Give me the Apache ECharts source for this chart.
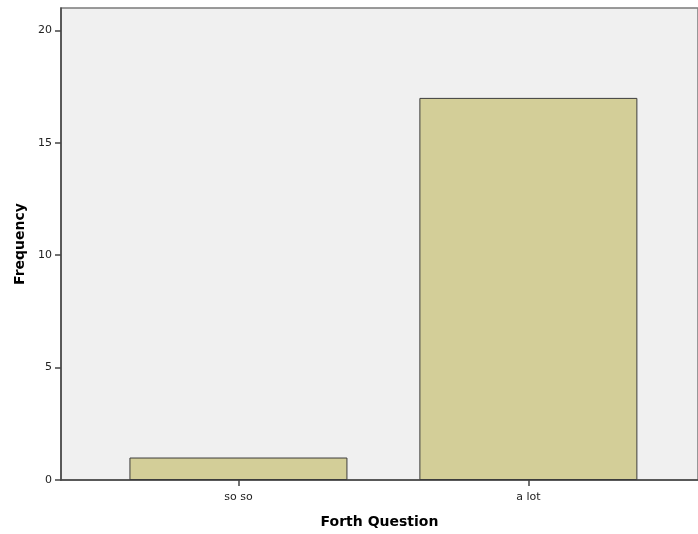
<!DOCTYPE html>
<html>
<head>
<meta charset="utf-8">
<script src="https://cdn.jsdelivr.net/npm/echarts@6/dist/echarts.min.js"></script>
<style>
html,body{margin:0;padding:0;background:#fff;}
#chart{width:698px;height:534px;}
</style>
</head>
<body>
<div id="chart"></div>
<script>
const categories = ["so so", "a lot"];
const frequencies = [1, 17];
const yTicks = [0, 5, 10, 15, 20];

const FONT = 'DejaVu Sans, Verdana, sans-serif';
const chart = echarts.init(document.getElementById('chart'), null, {renderer: 'canvas'});
const catIdx = categories.map((c, i) => i);
chart.setOption({
  animation: false,
  backgroundColor: '#ffffff',
  grid: {
    left: 61, right: 0, top: 8, bottom: 53,
    show: true, backgroundColor: '#f0f0f0', borderColor: '#7a7a7a', borderWidth: 1.5
  },
  xAxis: {
    type: 'value',
    min: -0.612, max: 1.585,
    name: 'Forth Question',
    nameLocation: 'middle',
    nameGap: 35,
    nameTextStyle: {fontFamily: FONT, fontSize: 14, fontWeight: 'bold', color: '#000'},
    axisLine: {show: true, onZero: false, lineStyle: {color: '#444', width: 1.5}},
    axisTick: {show: true, customValues: catIdx, length: 6, lineStyle: {color: '#444', width: 1.5}},
    axisLabel: {show: true, customValues: catIdx, margin: 12,
      formatter: v => categories[Math.round(v)],
      fontFamily: FONT, fontSize: 11, color: '#222'},
    splitLine: {show: false}
  },
  yAxis: {
    type: 'value',
    min: 0, max: 21,
    name: 'Frequency',
    nameLocation: 'middle',
    nameGap: 33,
    nameTextStyle: {fontFamily: FONT, fontSize: 14, fontWeight: 'bold', color: '#000'},
    axisLine: {show: true, onZero: false, lineStyle: {color: '#444', width: 1.5}},
    axisTick: {show: true, customValues: yTicks, length: 6, lineStyle: {color: '#444', width: 1.5}},
    axisLabel: {show: true, customValues: yTicks, margin: 9,
      fontFamily: FONT, fontSize: 11, color: '#222'},
    splitLine: {show: false}
  },
  series: [{
    type: 'bar',
    barWidth: 218,
    data: categories.map((c, i) => [i, frequencies[i]]),
    itemStyle: {color: '#d3ce98', borderColor: '#3c3c3c', borderWidth: 1}
  }]
});
</script>
</body>
</html>
